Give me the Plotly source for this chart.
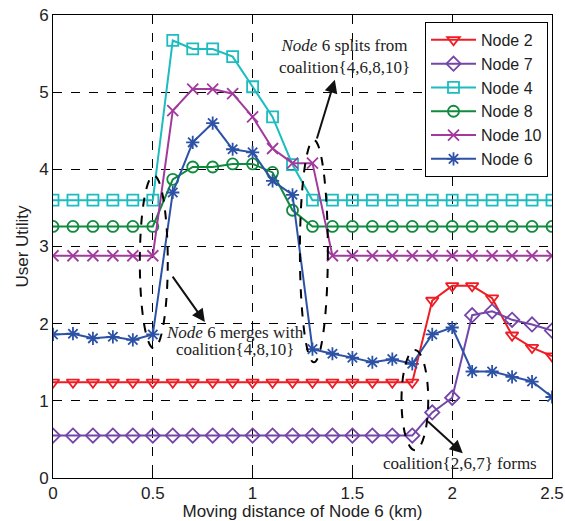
import plotly.graph_objects as go

x_km = [round(0.1 * i, 1) for i in range(26)]

node2 = [1.24] * 19 + [2.30, 2.49, 2.49, 2.33, 1.85, 1.69, 1.58]
node7 = [0.55] * 19 + [0.85, 1.04, 2.11, 2.16, 2.05, 1.99, 1.91]
node4 = [3.60] * 6 + [5.67, 5.56, 5.56, 5.46, 5.07, 4.68, 4.06] + [3.60] * 13
node8 = [3.26] * 6 + [3.87, 4.03, 4.03, 4.07, 4.07, 3.96, 3.47] + [3.26] * 13
node10 = [2.88] * 6 + [4.76, 5.04, 5.04, 4.98, 4.68, 4.27, 4.08, 4.08] + [2.88] * 12
node6 = [1.86, 1.87, 1.81, 1.83, 1.79, 1.86, 3.70, 4.35, 4.60, 4.26, 4.22, 3.85, 3.67,
         1.67, 1.61, 1.56, 1.50, 1.54, 1.48, 1.86, 1.95, 1.38, 1.38, 1.31, 1.25, 1.05]

series = [
    ("Node 2", node2, "#f01c24", "triangle-down-open"),
    ("Node 7", node7, "#7446a8", "diamond-open"),
    ("Node 4", node4, "#1dbcc0", "square-open"),
    ("Node 8", node8, "#108a3c", "circle-open"),
    ("Node 10", node10, "#a23a9e", "x-thin-open"),
    ("Node 6", node6, "#2c52a6", "asterisk-open"),
]

fig = go.Figure()
for name, ys, col, sym in series:
    fig.add_trace(go.Scatter(
        x=x_km, y=ys, name=name, mode="lines+markers",
        line=dict(color=col, width=2),
        marker=dict(symbol=sym, size=11, color=col, line=dict(color=col, width=1.8)),
    ))

# dashed ellipses
ellipses = [(0.435, 0.575, 1.68, 3.92), (1.237, 1.377, 1.50, 4.38), (1.746, 1.880, 0.36, 1.66)]
for x0, x1, y0, y1 in ellipses:
    fig.add_shape(type="circle", xref="x", yref="y", x0=x0, x1=x1, y0=y0, y1=y1,
                  line=dict(color="black", width=2, dash="dash"))

serif = "Liberation Serif, Times New Roman, serif"
tcol = "#222222"
arrows = [((1.32, 4.38), (1.412, 5.16)), ((0.594, 2.63), (0.761, 2.02)), ((1.871, 0.75), (2.053, 0.32))]
for (tx, ty), (hx, hy) in arrows:
    fig.add_annotation(x=hx, y=hy, ax=tx, ay=ty, xref="x", yref="y", axref="x", ayref="y",
                       text="", showarrow=True, arrowhead=2, arrowsize=1.3, arrowwidth=2,
                       arrowcolor="#111111")

texts = [
    (1.462, 5.46, "<i>Node</i> 6 splits from<br>coalition{4,6,8,10}"),
    (0.911, 1.89, "<i>Node</i> 6 merges with"),
    (0.911, 1.66, "coalition{4,8,10}"),
    (2.038, 0.19, "coalition{2,6,7} forms"),
]
for tx, ty, t in texts:
    fig.add_annotation(x=tx, y=ty, xref="x", yref="y", text=t, showarrow=False,
                       font=dict(family=serif, size=17, color=tcol), bgcolor="rgba(0,0,0,0)")

sans = "Liberation Sans, Arial, sans-serif"
axis_common = dict(showline=True, linecolor="black", linewidth=1, mirror=True,
                   showgrid=True, gridcolor="black", griddash="dash", gridwidth=1,
                   zeroline=False, ticks="inside", ticklen=5, tickcolor="black",
                   automargin=False,
                   tickfont=dict(family=sans, size=17, color="#222"))
fig.update_xaxes(range=[0, 2.5], dtick=0.5, tick0=0,
                 title=dict(text="Moving distance of Node 6 (km)", standoff=2,
                            font=dict(family=sans, size=17, color="#222")), **axis_common)
fig.update_yaxes(range=[0, 6], dtick=1, tick0=0,
                 title=dict(text="User Utility", standoff=6,
                            font=dict(family=sans, size=17, color="#222")), **axis_common)

fig.update_layout(
    width=565, height=521,
    margin=dict(l=53, r=13, t=15, b=43),
    plot_bgcolor="white", paper_bgcolor="white",
    legend=dict(x=0.992, y=0.985, xanchor="right", yanchor="top",
                bgcolor="white", bordercolor="black", borderwidth=1, itemwidth=45,
                font=dict(family=sans, size=16, color="#222"), tracegroupgap=0),
)
fig.write_html("out.html", config={"displayModeBar": False},
               post_script="document.body.style.margin='0';")
